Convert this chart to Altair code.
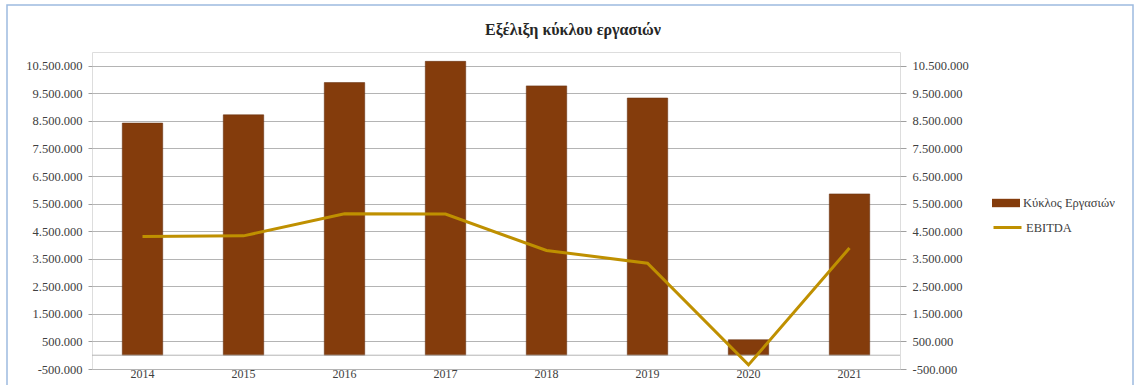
import altair as alt
import pandas as pd

years = ["2014", "2015", "2016", "2017", "2018", "2019", "2020", "2021"]
turnover = [8420000, 8720000, 9890000, 10660000, 9770000, 9330000, 560000, 5850000]
ebitda = [4310000, 4330000, 5130000, 5120000, 3800000, 3340000, -350000, 3890000]
tick_values = [-500000, 500000, 1500000, 2500000, 3500000, 4500000, 5500000,
               6500000, 7500000, 8500000, 9500000, 10500000]
series_bar = "Κύκλος Εργασιών"
series_line = "EBITDA"
title_text = "Εξέλιξη κύκλου εργασιών"

df = pd.DataFrame({"year": years, "turnover": turnover, "ebitda": ebitda,
                   "s1": series_bar, "s2": series_line})

FONT = "Liberation Serif"
LBL = "#404040"
yscale = alt.Scale(domain=[-500000, 11000000], nice=False, zero=False)

x = alt.X("year:N", sort=years,
          scale=alt.Scale(paddingInner=0.6, paddingOuter=0.3),
          axis=alt.Axis(title=None, labelAngle=0, ticks=False, domain=False,
                        labelPadding=-1, labelFont=FONT, labelFontSize=12,
                        labelColor=LBL))

left_axis = alt.Axis(orient="left", values=tick_values, format=",.0f",
                     title=None, grid=True, gridColor="#b4b4b4",
                     domain=False, ticks=True, tickSize=4, tickCount=12,
                     tickColor="#a0a0a0", labelPadding=6,
                     labelOverlap=False, labelFlush=False,
                     labelFont=FONT, labelFontSize=12.5, labelColor=LBL)

bars = alt.Chart(df).mark_bar(stroke="#6a3414", strokeWidth=0.6).encode(
    x=x,
    y=alt.Y("turnover:Q", scale=yscale, axis=left_axis),
    color=alt.Color("s1:N", scale=alt.Scale(domain=[series_bar], range=["#843c0c"]),
                    legend=alt.Legend(title=None, orient="none", legendX=900,
                                      legendY=137, padding=0,
                                      symbolType="M-1,-0.3H1V0.3H-1Z",
                                      symbolSize=784, symbolStrokeWidth=0,
                                      labelFont=FONT, labelFontSize=12.5,
                                      labelColor=LBL, labelOffset=3)),
)

zero_rule = alt.Chart(pd.DataFrame({"v": [0]})).mark_rule(
    color="#b4b4b4", strokeWidth=1).encode(
    y=alt.Y("v:Q", scale=yscale, axis=left_axis))

left = alt.layer(bars, zero_rule)

line = alt.Chart(df).mark_line(strokeWidth=3, strokeJoin="miter").encode(
    x=x,
    y=alt.Y("ebitda:Q", scale=yscale,
            axis=alt.Axis(orient="right", values=tick_values, format=",.0f",
                          title=None, grid=False, domain=False, ticks=True,
                          tickSize=6, tickCount=12, tickColor="#a0a0a0",
                          labelPadding=6,
                          labelOverlap=False, labelFlush=False,
                          labelFont=FONT, labelFontSize=12.5, labelColor=LBL)),
    stroke=alt.Stroke("s2:N", scale=alt.Scale(domain=[series_line], range=["#bf9000"]),
                      legend=alt.Legend(title=None, orient="none", legendX=900,
                                        legendY=160, padding=0,
                                        symbolType="stroke", symbolSize=784,
                                        symbolStrokeWidth=3,
                                        labelFont=FONT, labelFontSize=12.5,
                                        labelColor=LBL, labelOffset=3)),
)

frame = alt.Chart(pd.DataFrame({"a": [0]})).mark_rect(
    fill=None, stroke="#9dbbe0", strokeWidth=1.5, clip=False).encode(
    x=alt.value(-85), x2=alt.value(1041), y=alt.value(-47), y2=alt.value(345))

chart = alt.layer(left, line, frame).resolve_scale(
    y="independent"
).properties(
    width=808, height=317,
    title=alt.TitleParams(title_text, font=FONT, fontSize=16, fontWeight="bold",
                          color="#262626", anchor="middle", frame="group",
                          dx=77, offset=-34),
    autosize=alt.AutoSizeParams(type="none"),
    padding={"left": 92, "top": 52, "right": 238, "bottom": 16},
    background="white",
).configure_view(
    fill="#e6e6e6", stroke="#a8a8a8", strokeWidth=1
).configure(
    locale={"number": {"decimal": ",", "thousands": ".", "grouping": [3],
                       "currency": ["", "€"], "minus": "-"}}
)

chart.save("out.html", embed_options={"renderer": "svg", "actions": False})
